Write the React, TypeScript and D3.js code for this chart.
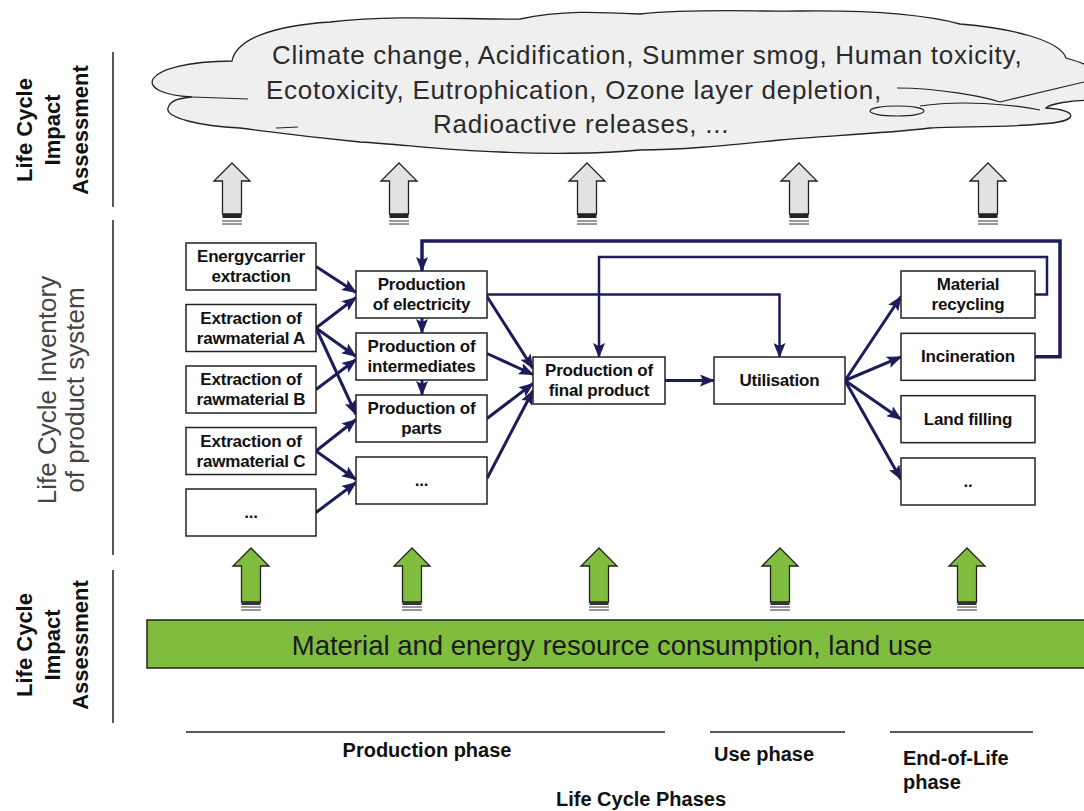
import React from "react";
import * as d3 from "d3";

// ---------- content ----------
const impactCategories = [
  "Climate change, Acidification, Summer smog, Human toxicity,",
  "Ecotoxicity, Eutrophication, Ozone layer depletion,",
  "Radioactive releases, ...",
];
const resourceText = "Material and energy resource consumption, land use";
const assessmentLabel = ["Life Cycle", "Impact", "Assessment"];
const inventoryLabel = ["Life Cycle Inventory", "of product system"];

const extractionNodes = [
  ["Energycarrier", "extraction"],
  ["Extraction of", "rawmaterial A"],
  ["Extraction of", "rawmaterial B"],
  ["Extraction of", "rawmaterial C"],
  ["..."],
];
const productionNodes = [
  ["Production", "of electricity"],
  ["Production of", "intermediates"],
  ["Production of", "parts"],
  ["..."],
];
const finalNode = ["Production of", "final product"];
const useNode = ["Utilisation"];
const endOfLifeNodes = [["Material", "recycling"], ["Incineration"], ["Land filling"], [".."]];

// flows: [fromColumn, fromRow, fromDy, toColumn, toRow, toDy]
const extractionFlows = [
  [0, 0, 0, 1, 0, -2],
  [0, 1, 0, 1, 0, 3],
  [0, 1, 0, 1, 1, 0],
  [0, 1, 0, 1, 2, -4],
  [0, 2, 0, 1, 1, 3],
  [0, 3, 0, 1, 2, 1],
  [0, 3, 0, 1, 3, -1],
  [0, 4, 0, 1, 3, 2],
];
const productionToFinalDy = [-12, -6, 3, 10];
const productionFromDy = [2, -3, 0, -2];
const useToEolDy = [2, 0, 0, -2];

const phaseLabels = [["Production phase"], ["Use phase"], ["End-of-Life", "phase"]];
const phasesTitle = "Life Cycle Phases";

// ---------- layout ----------
const W = 1084;
const H = 811;
const NAVY = "#1c1c5c";
const SANS = "'Liberation Sans', Arial, Helvetica, sans-serif";
const NARROW = "'Liberation Sans Narrow', 'Arial Narrow', 'Liberation Sans', Arial, sans-serif";

const col = {
  ext: { x: 186, w: 130 },
  prod: { x: 356, w: 131 },
  fin: { x: 533, w: 132 },
  use: { x: 714, w: 131 },
  eol: { x: 901, w: 134 },
};
const BOX_H = 47;
const extRow = d3.scaleLinear().domain([0, 4]).range([243, 489]);
const prodRow = d3.scaleLinear().domain([0, 3]).range([271, 457]);
const eolRow = d3.scaleLinear().domain([0, 3]).range([271, 458]);
const centerTop = 357;

const grayArrowX = [232, 399, 587, 799, 988];
const greenArrowX = [251, 412, 599, 780, 967];
const cloudLineX = [272, 266, 433];

const cloudPath =
  "M 192 97 C 130 94, 138 62, 232 61 C 236 40, 270 26, 330 22 C 400 14, 470 20, 520 19 " +
  "C 560 10, 600 12, 640 14 C 700 8, 760 12, 800 11 C 880 10, 930 16, 960 24 " +
  "C 1010 28, 1060 40, 1066 58 C 1080 62, 1090 66, 1096 70 L 1096 100 " +
  "C 1070 100, 1050 104, 1046 108 C 1080 110, 1080 122, 1040 124 " +
  "C 1000 128, 960 126, 930 128 C 880 134, 820 136, 780 140 C 720 146, 680 150, 640 150 " +
  "C 600 154, 540 154, 500 152 C 440 150, 400 144, 360 142 C 320 138, 270 132, 240 128 " +
  "C 200 126, 165 118, 168 108 C 170 100, 180 98, 192 97 Z";

function blockArrow(cx: number, top: number, headH: number, bottom: number, hw: number, sw: number) {
  const pts: [number, number][] = [
    [cx, top],
    [cx + hw, top + headH],
    [cx + sw, top + headH],
    [cx + sw, bottom],
    [cx - sw, bottom],
    [cx - sw, top + headH],
    [cx - hw, top + headH],
  ];
  return d3.line()(pts) + "Z";
}

function Box({ x, y, w, h, lines }: { x: number; y: number; w: number; h: number; lines: string[] }) {
  const cy = y + h / 2;
  const lh = 20;
  return (
    <g>
      <rect x={x} y={y} width={w} height={h} fill="#fff" stroke="#222" strokeWidth={1.5} />
      {lines.map((t, i) => (
        <text
          key={i}
          x={x + w / 2}
          y={cy + (i - (lines.length - 1) / 2) * lh}
          textAnchor="middle"
          dominantBaseline="central"
          fontFamily={NARROW}
          fontWeight="bold"
          fontSize={17}
          letterSpacing={-0.2}
          fill="#111"
        >
          {t}
        </text>
      ))}
    </g>
  );
}

export default function App() {
  const line = d3.line();
  const extRight = col.ext.x + col.ext.w;
  const prodRight = col.prod.x + col.prod.w;
  const finRight = col.fin.x + col.fin.w;
  const useRight = col.use.x + col.use.w;
  const centerCy = centerTop + BOX_H / 2;
  const elecX = 422;
  const finCx = col.fin.x + col.fin.w / 2;
  const useCx = col.use.x + col.use.w / 2;
  const eolRight = col.eol.x + col.eol.w;

  const flowPaths: string[] = [];
  extractionFlows.forEach(([, fr, fdy, , tr, tdy]) => {
    flowPaths.push(
      line([
        [extRight, extRow(fr) + BOX_H / 2 + fdy],
        [col.prod.x, prodRow(tr) + BOX_H / 2 + tdy],
      ]) as string
    );
  });
  productionNodes.forEach((_, i) => {
    flowPaths.push(
      line([
        [prodRight, prodRow(i) + BOX_H / 2 + productionFromDy[i]],
        [col.fin.x, centerCy + productionToFinalDy[i]],
      ]) as string
    );
  });
  flowPaths.push(line([[finRight, centerCy], [col.use.x, centerCy]]) as string);
  endOfLifeNodes.forEach((_, i) => {
    flowPaths.push(
      line([
        [useRight, centerCy],
        [col.eol.x, eolRow(i) + BOX_H / 2 + useToEolDy[i]],
      ]) as string
    );
  });
  flowPaths.push(line([[elecX, prodRow(0) + BOX_H], [elecX, prodRow(1)]]) as string);
  flowPaths.push(line([[elecX, prodRow(1) + BOX_H], [elecX, prodRow(2)]]) as string);

  const feedbackIncineration = line([
    [eolRight, eolRow(1) + BOX_H / 2],
    [1060, eolRow(1) + BOX_H / 2],
    [1060, 241],
    [elecX, 241],
    [elecX, prodRow(0)],
  ]) as string;
  const feedbackRecycling = line([
    [eolRight, eolRow(0) + BOX_H / 2],
    [1047, eolRow(0) + BOX_H / 2],
    [1047, 257],
    [finCx, 257],
    [finCx, centerTop],
  ]) as string;
  const electricityToUse = line([
    [prodRight, prodRow(0) + BOX_H / 2],
    [useCx, prodRow(0) + BOX_H / 2],
    [useCx, centerTop],
  ]) as string;

  const leftLabel = (cx: number[], cy: number, lines: string[], bold: boolean, size: number, color: string) =>
    lines.map((t, i) => (
      <text
        key={t}
        transform={`translate(${cx[i]},${cy}) rotate(-90)`}
        textAnchor="middle"
        dominantBaseline="central"
        fontFamily={SANS}
        fontWeight={bold ? "bold" : "normal"}
        fontSize={size}
        fill={color}
      >
        {t}
      </text>
    ));

  return (
    <svg width={W} height={H} style={{ position: "absolute", left: 0, top: 0, background: "#fff" }}>
      <defs>
        <marker id="ah" markerUnits="userSpaceOnUse" markerWidth={16} markerHeight={12} refX={14} refY={6} orient="auto">
          <path d="M0,0 L15,6 L0,12 L3,6 Z" fill={NAVY} />
        </marker>
      </defs>

      {leftLabel([24, 52, 80], 130, assessmentLabel, true, 22, "#111")}
      {leftLabel([47, 75], 390, inventoryLabel, false, 26, "#444")}
      {leftLabel([24, 52, 80], 645, assessmentLabel, true, 22, "#111")}
      <line x1={113} x2={113} y1={52} y2={207} stroke="#222" strokeWidth={1.5} />
      <line x1={113} x2={113} y1={220} y2={555} stroke="#222" strokeWidth={1.5} />
      <line x1={113} x2={113} y1={570} y2={723} stroke="#222" strokeWidth={1.5} />

      <path d={cloudPath} fill="#efefef" stroke="#222" strokeWidth={1.3} />
      <path d="M192,97 L248,99" stroke="#222" strokeWidth={1.2} fill="none" />
      <path d="M276,128 L298,127" stroke="#222" strokeWidth={1.2} fill="none" />
      <path d="M897,88 C940,88 985,97 1000,102 L1084,82" stroke="#222" strokeWidth={1.2} fill="none" />
      <ellipse cx={897} cy={111} rx={27} ry={5} fill="none" stroke="#222" strokeWidth={1.2} />
      <path d="M920,106 C960,100 1010,104 1040,110" stroke="#222" strokeWidth={1.2} fill="none" />
      {impactCategories.map((t, i) => (
        <text
          key={t}
          x={cloudLineX[i]}
          y={55 + i * 34.5}
          dominantBaseline="central"
          fontFamily={SANS}
          fontSize={26}
          letterSpacing={0.75}
          fill="#2a2a2a"
        >
          {t}
        </text>
      ))}

      {grayArrowX.map((cx) => (
        <g key={cx}>
          <path d={blockArrow(cx, 163, 18, 214, 18, 9.5)} fill="#e2e2e2" stroke="#222" strokeWidth={1.3} />
          <rect x={cx - 9.5} y={214} width={19} height={4} fill="#222" />
          <line x1={cx - 10} x2={cx + 10} y1={221} y2={221} stroke="#333" strokeWidth={1} />
          <line x1={cx - 10} x2={cx + 10} y1={224} y2={224} stroke="#333" strokeWidth={1} />
        </g>
      ))}

      <path d={feedbackIncineration} fill="none" stroke={NAVY} strokeWidth={3.5} markerEnd="url(#ah)" />
      <path d={feedbackRecycling} fill="none" stroke={NAVY} strokeWidth={2.5} markerEnd="url(#ah)" />
      <path d={electricityToUse} fill="none" stroke={NAVY} strokeWidth={2.5} markerEnd="url(#ah)" />

      {flowPaths.map((d, i) => (
        <path key={i} d={d} fill="none" stroke={NAVY} strokeWidth={3} markerEnd="url(#ah)" />
      ))}

      {extractionNodes.map((l, i) => (
        <Box key={"e" + i} x={col.ext.x} y={extRow(i)} w={col.ext.w} h={BOX_H} lines={l} />
      ))}
      {productionNodes.map((l, i) => (
        <Box key={"p" + i} x={col.prod.x} y={prodRow(i)} w={col.prod.w} h={BOX_H} lines={l} />
      ))}
      <Box x={col.fin.x} y={centerTop} w={col.fin.w} h={BOX_H} lines={finalNode} />
      <Box x={col.use.x} y={centerTop} w={col.use.w} h={BOX_H} lines={useNode} />
      {endOfLifeNodes.map((l, i) => (
        <Box key={"r" + i} x={col.eol.x} y={eolRow(i)} w={col.eol.w} h={BOX_H} lines={l} />
      ))}

      {greenArrowX.map((cx) => (
        <g key={cx}>
          <path d={blockArrow(cx, 548, 18, 602, 18, 9.5)} fill="#80bd3f" stroke="#222" strokeWidth={1.3} />
          <rect x={cx - 9.5} y={602} width={19} height={3} fill="#333" />
          <line x1={cx - 10} x2={cx + 10} y1={607} y2={607} stroke="#333" strokeWidth={1} />
          <line x1={cx - 10} x2={cx + 10} y1={610} y2={610} stroke="#333" strokeWidth={1} />
        </g>
      ))}
      <rect x={147} y={620} width={950} height={48} fill="#80bd3f" stroke="#222" strokeWidth={1.5} />
      <text x={612} y={645} textAnchor="middle" dominantBaseline="central" fontFamily={SANS} fontSize={27.5} fill="#1a1a1a">
        {resourceText}
      </text>

      <line x1={186} x2={665} y1={732} y2={732} stroke="#222" strokeWidth={1.5} />
      <line x1={710} x2={845} y1={732} y2={732} stroke="#222" strokeWidth={1.5} />
      <line x1={890} x2={1033} y1={732} y2={732} stroke="#222" strokeWidth={1.5} />
      <text x={427} y={750} textAnchor="middle" dominantBaseline="central" fontFamily={NARROW} fontWeight="bold" fontSize={20} fill="#111">
        {phaseLabels[0][0]}
      </text>
      <text x={714} y={754} dominantBaseline="central" fontFamily={NARROW} fontWeight="bold" fontSize={20} fill="#111">
        {phaseLabels[1][0]}
      </text>
      {phaseLabels[2].map((t, i) => (
        <text key={t} x={903} y={758 + i * 24} dominantBaseline="central" fontFamily={NARROW} fontWeight="bold" fontSize={20} fill="#111">
          {t}
        </text>
      ))}
      <text x={641} y={799} textAnchor="middle" dominantBaseline="central" fontFamily={NARROW} fontWeight="bold" fontSize={20} fill="#111">
        {phasesTitle}
      </text>
    </svg>
  );
}
